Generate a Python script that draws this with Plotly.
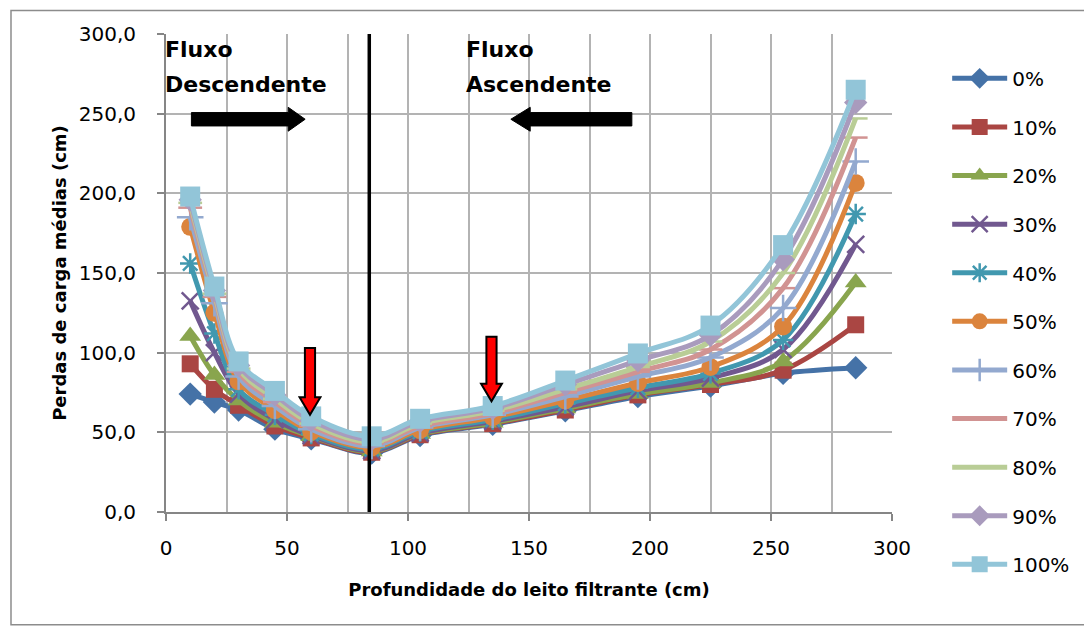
import plotly.graph_objects as go

# ---------------- data ----------------
profundidade = [10, 20, 30, 45, 60, 85, 105, 135, 165, 195, 225, 255, 285]

serie_names = ["0%", "10%", "20%", "30%", "40%", "50%", "60%", "70%", "80%", "90%", "100%"]

s0 = [74, 69, 64, 52, 46, 37, 48, 55, 63.5, 72.5, 79, 87, 90.5]
s10 = [93, 77, 67, 54, 46.5, 37.5, 48.5, 55.5, 64, 73.5, 80, 89, 117.5]
s20 = [110.5, 86, 70, 56, 47.5, 38, 49, 56, 65, 74, 81, 94.5, 144]
s30 = [132.5, 100, 74, 58, 48, 38.5, 49.5, 57, 66, 76, 84, 102, 168]
s40 = [156, 112, 77, 61, 49, 39.5, 50.5, 58, 68, 78, 87, 108, 187]
s50 = [179, 125, 82, 64, 50.5, 40.5, 51.5, 59.5, 70, 81, 91, 116.5, 206.5]
s60 = [185, 131, 85, 66.5, 52, 41.5, 53, 61, 72.5, 85, 97, 128, 220]
s70 = [191, 135, 88, 69, 54, 43, 54, 62, 75, 88, 102, 140.5, 235]
s80 = [194, 137, 90, 71, 55.5, 44, 55.5, 63.5, 77, 91, 107, 150, 247]
s90 = [196, 139, 92, 73.5, 57.5, 45.5, 57, 65, 80, 95, 111, 158.5, 257]
s100 = [198, 141.5, 94.5, 76, 60, 47.5, 58.5, 66.5, 82.5, 99.5, 117, 167.5, 265]

series_values = [s0, s10, s20, s30, s40, s50, s60, s70, s80, s90, s100]

colors = ["#4572A7", "#AA4643", "#89A54E", "#71588F", "#4198AF", "#DB843D",
          "#93A9CF", "#D19392", "#B9CD96", "#A99BBD", "#92C5D8"]
symbols = ["diamond", "square", "triangle-up", "x-thin-open", "asterisk-open", "circle",
           "cross-thin-open", "line-ew-open", "line-ew-open", "diamond", "square"]
sizes = [18, 17, 19, 17, 17, 18, 19, 17, 17, 18, 20]

divisa_x = 84  # vertical separator between flows

FONT = "DejaVu Sans"

fig = go.Figure()

for name, vals, c, sym, sz in zip(serie_names, series_values, colors, symbols, sizes):
    open_sym = sym.endswith("-open")
    fig.add_trace(go.Scatter(
        x=profundidade, y=vals, name=name, mode="lines+markers",
        line=dict(color=c, width=5, shape="spline", smoothing=1.0),
        marker=dict(symbol=sym, size=sz, color=c,
                    line=dict(color=c, width=2.5 if open_sym else 0)),
        legendgroup=name,
    ))

# separator line
fig.add_shape(type="line", xref="x", yref="y", x0=divisa_x, x1=divisa_x, y0=0, y1=300,
              line=dict(color="black", width=3.5))

# black block arrows (flow direction)
def block_arrow_h(x_tail, x_head_base, x_tip, yc, half_shaft, half_head):
    return (f"M {x_tail},{yc-half_shaft} L {x_head_base},{yc-half_shaft} L {x_head_base},{yc-half_head} "
            f"L {x_tip},{yc} L {x_head_base},{yc+half_head} L {x_head_base},{yc+half_shaft} "
            f"L {x_tail},{yc+half_shaft} Z")

fig.add_shape(type="path", xref="x", yref="y",
              path=block_arrow_h(10.5, 50.5, 57.5, 246.5, 4.2, 7.5),
              fillcolor="black", line=dict(color="black", width=1))
fig.add_shape(type="path", xref="x", yref="y",
              path=block_arrow_h(192.5, 150.5, 142.5, 246.5, 4.2, 7.5),
              fillcolor="black", line=dict(color="black", width=1))

# red down arrows
def block_arrow_v(xc, y_top, y_head_base, y_tip, half_shaft, half_head):
    return (f"M {xc-half_shaft},{y_top} L {xc+half_shaft},{y_top} L {xc+half_shaft},{y_head_base} "
            f"L {xc+half_head},{y_head_base} L {xc},{y_tip} L {xc-half_head},{y_head_base} "
            f"L {xc-half_shaft},{y_head_base} Z")

fig.add_shape(type="path", xref="x", yref="y",
              path=block_arrow_v(59.5, 103, 72, 61, 2.1, 4.3),
              fillcolor="#FF0000", line=dict(color="black", width=2))
fig.add_shape(type="path", xref="x", yref="y",
              path=block_arrow_v(134.5, 110, 80.5, 69.5, 2.1, 4.3),
              fillcolor="#FF0000", line=dict(color="black", width=2))

# outer chart border
fig.add_shape(type="rect", xref="paper", yref="paper",
              x0=-0.2135, x1=1.266, y0=-0.236, y1=1.049,
              line=dict(color="#8C8C8C", width=1.5), fillcolor="rgba(0,0,0,0)", layer="above")

ann_font = dict(family=FONT, size=22, color="black")
for txt, xv, yv in [("<b>Fluxo</b>", 0, 290), ("<b>Descendente</b>", 0, 268),
                    ("<b>Fluxo</b>", 124.5, 290), ("<b>Ascendente</b>", 124.5, 268)]:
    fig.add_annotation(x=xv, y=yv, xref="x", yref="y", text=txt, showarrow=False,
                       xanchor="left", yanchor="middle", font=ann_font, xshift=-3)

fig.update_layout(
    width=1092, height=631,
    margin=dict(l=158, r=208, t=26, b=127, autoexpand=False),
    paper_bgcolor="white", plot_bgcolor="white",
    separators=", ",
    font=dict(family=FONT, size=18, color="black"),
    showlegend=True,
    legend=dict(x=1.076, y=0.948, xanchor="left", yanchor="top",
                font=dict(family=FONT, size=20, color="black"),
                tracegroupgap=19.6, itemwidth=55, bgcolor="rgba(0,0,0,0)",
                maxheight=620),
    xaxis=dict(range=[0, 300], dtick=50, tick0=0, showgrid=True, gridcolor="#B3B3B3", gridwidth=2,
               minor=dict(dtick=25, showgrid=True, gridcolor="#B3B3B3", gridwidth=2),
               showline=True, linecolor="#868686", linewidth=2,
               ticks="outside", ticklen=7, tickcolor="#868686", tickwidth=2,
               ticklabelstandoff=10,
               tickfont=dict(family=FONT, size=20), zeroline=False,
               title=dict(text="<b>Profundidade do leito filtrante (cm)</b>",
                          font=dict(family=FONT, size=18), standoff=24)),
    yaxis=dict(range=[0, 300], dtick=50, tick0=0, tickformat=".1f", showgrid=True,
               gridcolor="#B3B3B3", gridwidth=2,
               showline=True, linecolor="#868686", linewidth=2,
               ticks="outside", ticklen=7, tickcolor="#868686", tickwidth=2,
               ticklabelstandoff=17,
               tickfont=dict(family=FONT, size=20), zeroline=False,
               title=dict(text="<b>Perdas de carga médias (cm)</b>",
                          font=dict(family=FONT, size=18), standoff=7)),
)

fig.write_html("out.html")
